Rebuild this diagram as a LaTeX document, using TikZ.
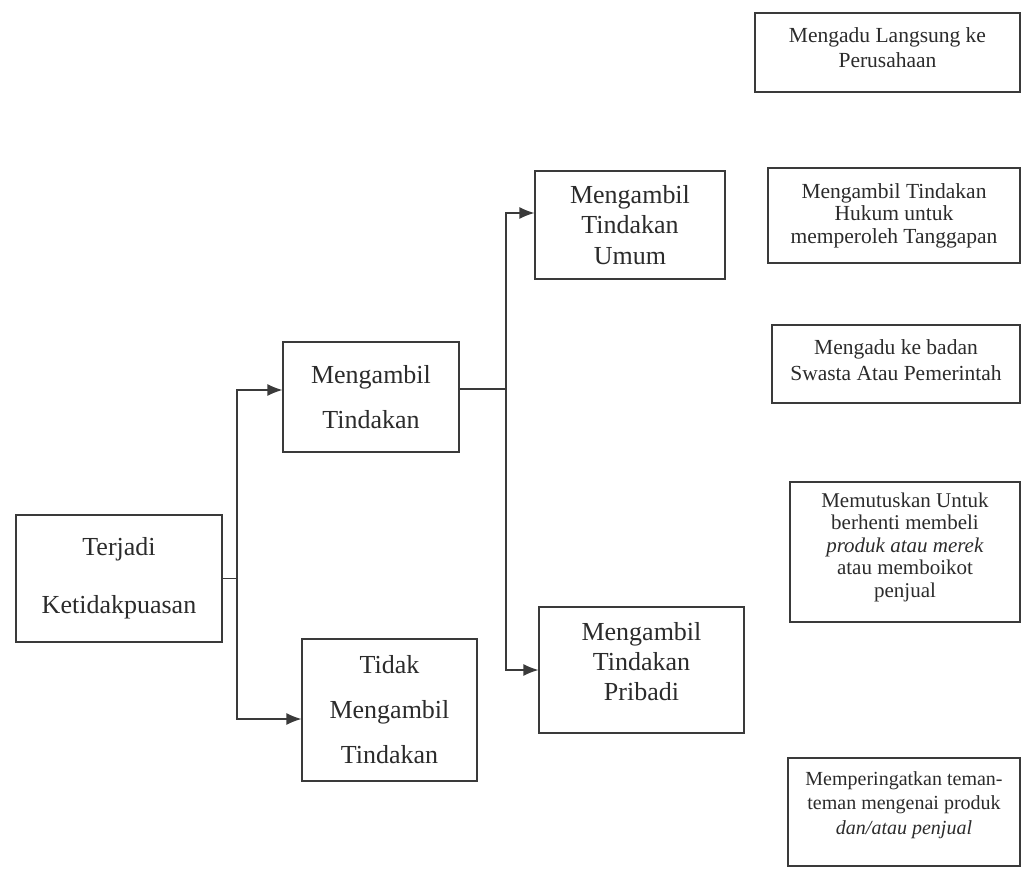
\documentclass[tikz,border=0pt]{standalone}
\usepackage{fontspec}
\setmainfont{Liberation Serif}
\usetikzlibrary{arrows.meta}
\definecolor{ink}{HTML}{2B2B2B}
\definecolor{linec}{HTML}{3A3A3A}
\tikzset{
  box/.style={draw=linec, line width=1.2pt, inner sep=0pt, align=center, text=ink},
  lbl/.style={inner sep=0pt, align=center, text=ink},
  conn/.style={draw=linec, line width=1.2pt},
  arr/.style={conn, -{Latex[length=15pt,width=12pt]}},
}
\begin{document}
\begin{tikzpicture}[x=1pt,y=-1pt]
\useasboundingbox (0,0) rectangle (1021,875);
% left column
\node[box, minimum width=206pt, minimum height=127pt, font={\fontsize{26}{58}\selectfont}] (T) at (119,578.5) {Terjadi\\Ketidakpuasan};
\node[box, minimum width=176pt, minimum height=110pt, font={\fontsize{26}{45}\selectfont}] (MT) at (371,397) {Mengambil\\Tindakan};
\node[box, minimum width=175pt, minimum height=142pt, font={\fontsize{26}{45}\selectfont}] (TMT) at (389.5,710) {Tidak\\Mengambil\\Tindakan};
% middle column
\node[box, minimum width=190pt, minimum height=108pt, font={\fontsize{26}{30.5}\selectfont}] (U) at (630,225) {Mengambil\\Tindakan\\Umum};
\node[box, minimum width=205pt, minimum height=126pt] (P) at (641.5,670) {};
\node[lbl, font={\fontsize{26}{30}\selectfont}] (Pt) at ([yshift=8pt]P.center) {Mengambil\\Tindakan\\Pribadi};
% right column
\node[box, minimum width=265pt, minimum height=79pt] (R1) at (887.5,52.5) {};
\node[lbl, font={\fontsize{21.5}{25}\selectfont}] (R1t) at ([yshift=5pt]R1.center) {Mengadu Langsung ke\\Perusahaan};
\node[box, minimum width=252pt, minimum height=95pt, font={\fontsize{21.5}{22.5}\selectfont}] (R2) at (894,215.5) {Mengambil Tindakan\\Hukum untuk\\memperoleh Tanggapan};
\node[box, minimum width=248pt, minimum height=78pt] (R3) at (896,364) {};
\node[lbl, font={\fontsize{21.5}{26}\selectfont}] (R3t) at ([yshift=4pt]R3.center) {Mengadu ke badan\\Swasta Atau Pemerintah};
\node[box, minimum width=230pt, minimum height=140pt] (R4) at (905,552) {};
\node[lbl, font={\fontsize{21}{22.5}\selectfont}] (R4t) at ([yshift=5pt]R4.center) {Memutuskan Untuk\\berhenti membeli\\\textit{produk atau merek}\\atau memboikot\\penjual};
\node[box, minimum width=232pt, minimum height=108pt] (R5) at (904,812) {};
\node[lbl, font={\fontsize{20}{24.5}\selectfont}] (R5t) at ([yshift=7pt]R5.center) {Memperingatkan teman-\\teman mengenai produk\\\textit{dan/atau penjual}};
% connectors
\coordinate (j1) at (237,578.5);
\coordinate (j2) at (506,389);
\draw[conn] (T.east) -- (j1);
\draw[arr] (j1) |- ([yshift=7pt]MT.west);
\draw[arr] (j1) |- ([yshift=-9pt]TMT.west);
\draw[conn] ([yshift=8pt]MT.east) -- (j2);
\draw[arr] (j2) |- ([yshift=12pt]U.west);
\draw[arr] (j2) |- (P.west);
\end{tikzpicture}
\end{document}
